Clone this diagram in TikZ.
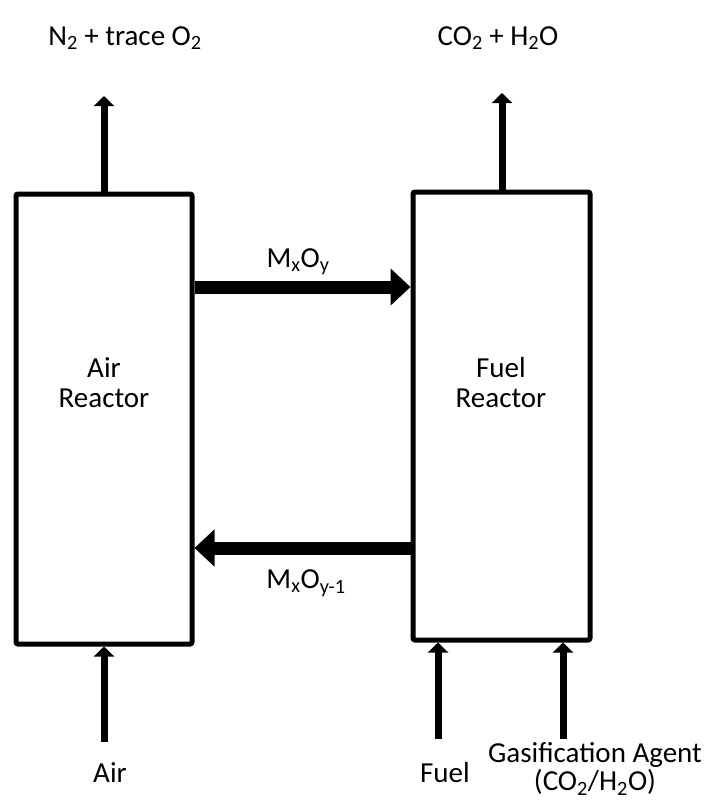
\documentclass[tikz,border=0pt]{standalone}
\usepackage{fontspec}
\setmainfont{Carlito}
\usepackage{tikz}
\usetikzlibrary{arrows.meta,calc}

\tikzset{
  reactor/.style={draw,line width=5pt,rounded corners=2pt,inner sep=0pt},
  flow/.style={line width=7pt,-{Triangle[width=20pt,length=10pt]}},
  bigflow/.style={line width=13pt,-{Triangle[width=36pt,length=20pt]}},
  lbl/.style={font=\fontsize{29}{30}\selectfont,align=center,inner sep=0pt}
}

\begin{document}
\begin{tikzpicture}[x=1pt,y=-1pt]
  \useasboundingbox (0,0) rectangle (713,801);
  % reactors
  \node[reactor,minimum width=176pt,minimum height=450pt] (AR) at (104,419) {};
  \node[reactor,minimum width=177pt,minimum height=448pt] (FR) at (501.5,416) {};
  \node[lbl] (ARtxt) at (104,383) {Air\\Reactor};
  \node[lbl] (FRtxt) at (501,383) {Fuel\\Reactor};
  % outlet gases
  \node[lbl] (ARout) at (125,38) {N\textsubscript{2} + trace O\textsubscript{2}};
  \node[lbl] (FRout) at (498,38) {CO\textsubscript{2} + H\textsubscript{2}O};
  \coordinate (ARtop) at (104,96);
  \coordinate (FRtop) at (502,93);
  \draw[flow] (AR.north) -- (ARtop);
  \draw[flow] (FR.north -| FRtop) -- (FRtop);
  % solid circulation
  \coordinate (ox) at (0,287);
  \coordinate (red) at (0,548);
  \draw[bigflow] (AR.east |- ox) -- (FR.west |- ox);
  \draw[bigflow] (FR.west |- red) -- (AR.east |- red);
  \node[lbl] (oxtxt) at (298,262) {M\textsubscript{x}O\textsubscript{y}};
  \node[lbl] (redtxt) at (306,583) {M\textsubscript{x}O\textsubscript{y-1}};
  % inlet streams
  \coordinate (airin) at (104,742);
  \coordinate (fuelin) at (438,739);
  \coordinate (gasin) at (563,739);
  \draw[flow] (airin) -- (airin |- AR.south);
  \draw[flow] (fuelin) -- (fuelin |- FR.south);
  \draw[flow] (gasin) -- (gasin |- FR.south);
  \node[lbl] (airtxt) at (110,773) {Air};
  \node[lbl] (fueltxt) at (445,773) {Fuel};
  \node[lbl,font=\fontsize{29}{28}\selectfont] (gastxt) at (595,769) {Gasification Agent\\(CO\textsubscript{2}/H\textsubscript{2}O)};
\end{tikzpicture}
\end{document}
